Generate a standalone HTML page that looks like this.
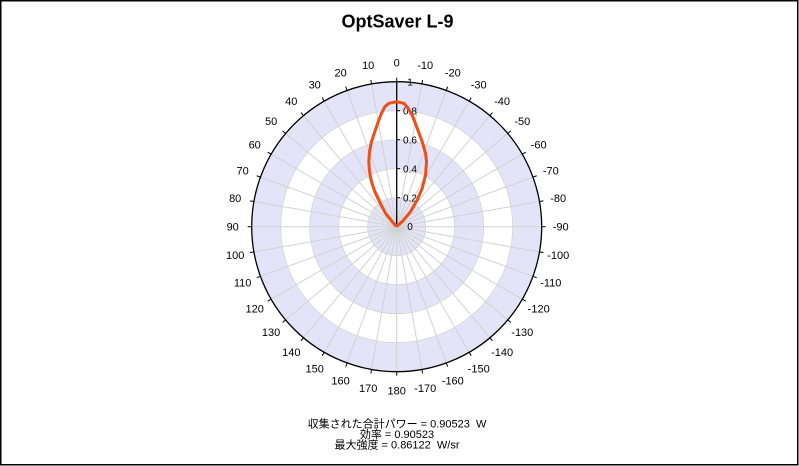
<!DOCTYPE html>
<html><head><meta charset="utf-8"><style>
html,body{margin:0;padding:0;background:#fff;}
svg{display:block;}
text{font-family:"Liberation Sans","Noto Sans CJK JP",sans-serif;}
</style></head><body>
<svg id="s" width="799" height="466" viewBox="0 0 799 466" xmlns="http://www.w3.org/2000/svg">
<rect x="0.75" y="0.75" width="797" height="464" fill="#fff" stroke="#000" stroke-width="1.5"/>
<text x="397.5" y="27.5" font-size="18" font-weight="bold" text-anchor="middle" fill="#000">OptSaver L-9</text>
<g id="polar">
<circle cx="396.7" cy="226.7" r="145" fill="#e4e4f8"/>
<circle cx="396.7" cy="226.7" r="116" fill="#fff"/>
<circle cx="396.7" cy="226.7" r="87" fill="#e4e4f8"/>
<circle cx="396.7" cy="226.7" r="58" fill="#fff"/>
<circle cx="396.7" cy="226.7" r="29" fill="#e4e4f8"/>
<g id="spokes" stroke="#d2d2d2" stroke-width="1"></g>
<g fill="none" stroke="#d4d4d4" stroke-width="0.8">
<circle cx="396.7" cy="226.7" r="29"/><circle cx="396.7" cy="226.7" r="58"/>
<circle cx="396.7" cy="226.7" r="87"/><circle cx="396.7" cy="226.7" r="116"/>
</g>
<circle cx="396.7" cy="226.7" r="145" fill="none" stroke="#000" stroke-width="1.3"/>
<g id="ticks" stroke="#000" stroke-width="1"></g>
<g id="labels" font-size="11" fill="#000" text-anchor="middle"></g>
<line x1="396.7" y1="226.7" x2="396.7" y2="81.7" stroke="#000" stroke-width="1.3"/>
<g stroke="#000" stroke-width="1">
<line x1="396.7" y1="197.7" x2="400" y2="197.7"/><line x1="396.7" y1="168.7" x2="400" y2="168.7"/>
<line x1="396.7" y1="139.7" x2="400" y2="139.7"/><line x1="396.7" y1="110.7" x2="400" y2="110.7"/>
<line x1="396.7" y1="81.7" x2="400" y2="81.7"/>
</g>
<g font-size="10" fill="#000" text-anchor="middle">
<text x="410" y="229.8">0</text>
<text x="410" y="201.3">0.2</text>
<text x="410" y="172.3">0.4</text>
<text x="410" y="143.3">0.6</text>
<text x="410" y="114.3">0.8</text>
<text x="410" y="85.3">1</text>
</g>
<polyline fill="none" stroke="#ef4f17" stroke-width="3" stroke-linejoin="round" points="
396.5,226.5 392.2,221.7 385.5,213.3 379.5,201.7 374.8,191.7 371.5,181.7 369.5,171.7 368.8,161.7 369.5,151.7 371.5,141.7 374.8,131.7 378.2,121.7 381.5,113.3 384.8,106.7 388.8,103.3 396.5,101.7 403.8,103.3 408.2,108.3 412.8,116.7 417.2,128.3 422.2,141.7 425.5,153.3 426.5,161.7 425.5,175 422.2,188.3 417.2,200 410.5,211.7 402.2,221.7 396.5,226.5"/>
</g>
<g font-size="11" fill="#000" text-anchor="middle">
<text x="397" y="427.5">収集された合計パワー = 0.90523&#160; W</text>
<text x="397" y="438">効率 = 0.90523</text>
<text x="397" y="448.5">最大強度 = 0.86122&#160; W/sr</text>
</g>
</svg>
<script>
(function(){
var ns="http://www.w3.org/2000/svg",cx=396.7,cy=226.7;
var sp=document.getElementById("spokes"),tk=document.getElementById("ticks"),lb=document.getElementById("labels");
for(var a=-170;a<=180;a+=10){
  var r=a*Math.PI/180,s=Math.sin(r),c=Math.cos(r);
  var l=document.createElementNS(ns,"line");
  l.setAttribute("x1",cx);l.setAttribute("y1",cy);
  l.setAttribute("x2",cx-145*s);l.setAttribute("y2",cy-145*c);
  sp.appendChild(l);
  var t=document.createElementNS(ns,"line");
  t.setAttribute("x1",cx-145*s);t.setAttribute("y1",cy-145*c);
  t.setAttribute("x2",cx-149*s);t.setAttribute("y2",cy-149*c);
  tk.appendChild(t);
  var tx=document.createElementNS(ns,"text");
  tx.setAttribute("x",(cx-164*s).toFixed(1));
  tx.setAttribute("y",(cy-164*c+3.9).toFixed(1));
  tx.textContent=String(a);
  lb.appendChild(tx);
}
})();
</script>
</body></html>
